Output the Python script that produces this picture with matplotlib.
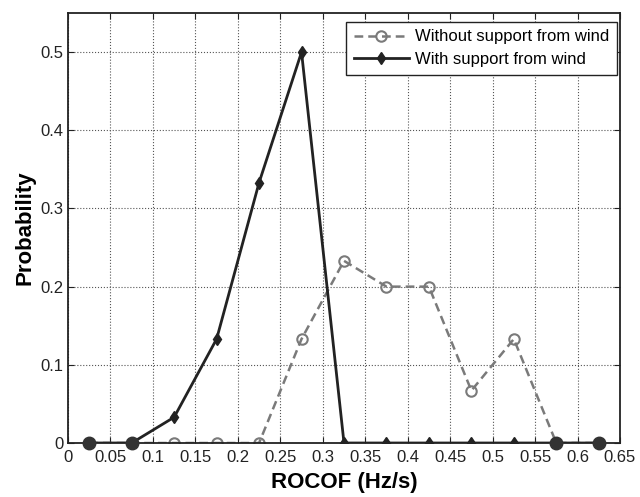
import matplotlib.pyplot as plt
import numpy as np

plt.rcParams['font.family'] = ['Liberation Sans', 'DejaVu Sans']

rocof = [0.025, 0.075, 0.125, 0.175, 0.225, 0.275, 0.325,
         0.375, 0.425, 0.475, 0.525, 0.575, 0.625]
p_without = [0, 0, 0, 0, 0, 0.133, 0.233, 0.2, 0.2, 0.067, 0.133, 0, 0]
p_with = [0, 0, 0.033, 0.133, 0.333, 0.5, 0, 0, 0, 0, 0, 0, 0]
xtick_vals = np.arange(0, 0.651, 0.05)
xtick_labels = ['0', '0.05', '0.1', '0.15', '0.2', '0.25', '0.3', '0.35',
                '0.4', '0.45', '0.5', '0.55', '0.6', '0.65']
ytick_vals = [0, 0.1, 0.2, 0.3, 0.4, 0.5]
ytick_labels = ['0', '0.1', '0.2', '0.3', '0.4', '0.5']

fig = plt.figure(figsize=(6.4, 4.97), dpi=100)
ax = fig.add_axes([68 / 640, 1 - 443 / 497, 552 / 640, 430 / 497])

ax.plot(rocof, p_without, '--', color='#7a7a7a', lw=1.8, marker='o',
        markersize=7.5, markerfacecolor='none', markeredgecolor='#7a7a7a',
        markeredgewidth=1.5, dashes=(3.5, 2), label='Without support from wind')
ax.plot(rocof, p_with, '-', color='#222222', lw=2, marker='d',
        markersize=6.5, markerfacecolor='#222222', markeredgecolor='#222222',
        label='With support from wind')

# bins where both curves are zero at the ends show up as solid dots
ends = [i for i in range(len(rocof))
        if p_without[i] == 0 and p_with[i] == 0
        and (rocof[i] < 0.1 or rocof[i] > 0.55)]
ax.plot([rocof[i] for i in ends], [p_with[i] for i in ends], 'o',
        color='#333333', markersize=9, zorder=6, clip_on=False)

ax.set_xlim(0, 0.65)
ax.set_ylim(0, 0.55)
ax.set_xticks(xtick_vals)
ax.set_xticklabels(xtick_labels)
ax.set_yticks(ytick_vals)
ax.set_yticklabels(ytick_labels)
ax.tick_params(direction='in', top=True, right=True, labelsize=12,
               length=4, colors='#222222')
ax.tick_params(axis='x', pad=5)
ax.grid(True, linestyle=':', color='#555555', linewidth=0.8)
for s in ax.spines.values():
    s.set_linewidth(1.3)
    s.set_color('#222222')

ax.set_xlabel('ROCOF (Hz/s)', fontsize=16, fontweight='bold', labelpad=5)
ax.set_ylabel('Probability', fontsize=16, fontweight='bold', labelpad=3)

leg = ax.legend(loc='upper right', bbox_to_anchor=(549 / 552, 421 / 430),
                borderaxespad=0, fontsize=12, fancybox=False,
                framealpha=1, edgecolor='#222222', handlelength=3.3,
                handletextpad=0.4, borderpad=0.45, labelspacing=0.45)
leg.get_frame().set_linewidth(1.0)

fig.savefig('out.png', dpi=100)
